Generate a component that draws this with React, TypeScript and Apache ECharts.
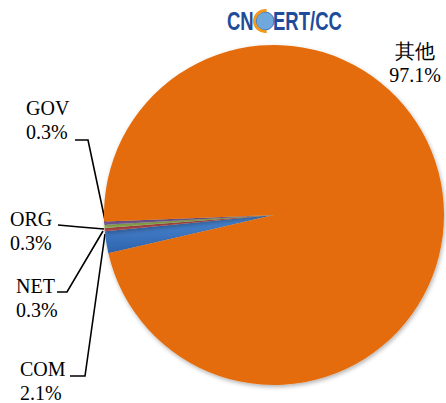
import React, { useEffect, useRef } from "react";
import * as echarts from "echarts";

const categories = ["COM", "NET", "ORG", "GOV", "其他"];
const values = [2.1, 0.3, 0.3, 0.3, 97.1];
const colors = ["#3C74C0", "#C0504D", "#9BBB59", "#8064A2", "#E46C0A"];

// label placement (layout only)
const labelPlace: Record<string, { x: number; y: number; align: string; line?: number[][] }> = {
  GOV: { x: 26, y: 120, align: "left", line: [[106, 225], [88, 140], [75, 140]] },
  ORG: { x: 10, y: 231, align: "left", line: [[104, 229], [80, 227], [58, 225]] },
  NET: { x: 16, y: 298, align: "left", line: [[103, 231], [67, 292], [57, 292]] },
  COM: { x: 20, y: 381, align: "left", line: [[105, 234], [85, 376], [70, 376]] },
  "其他": { x: 415, y: 63, align: "center" },
};

const SERIF = "Liberation Serif";
const txt = { fontFamily: SERIF, fontSize: 20, lineHeight: 24, color: "#000000" };

export default function App() {
  const ref = useRef<HTMLDivElement>(null);
  useEffect(() => {
    if (!ref.current) return;
    const chart = echarts.init(ref.current, null, { renderer: "svg" });
    const data = categories.map((c, i) => ({
      name: c,
      value: values[i],
      itemStyle: {
        color:
          i === 0
            ? new echarts.graphic.LinearGradient(0, 0, 0, 1, [
                { offset: 0, color: "#4A88D2" },
                { offset: 1, color: "#2F63AD" },
              ])
            : colors[i],
      },
      labelLine: { show: c !== "其他" },
    }));
    chart.setOption({
      animation: false,
      backgroundColor: "#ffffff",
      graphic: [
        {
          type: "text",
          x: 227,
          y: 9,
          scaleX: 0.74,
          style: { text: "CN", fontSize: 25, fontWeight: "bold", fontFamily: "Liberation Sans", fill: "#1E4C9A" },
        },
        {
          type: "circle",
          shape: { cx: 265, cy: 21, r: 9 },
          style: { fill: "#6FA8DC", stroke: "#2E6DB4", lineWidth: 1 },
        },
        {
          type: "arc",
          shape: { cx: 265, cy: 21, r: 10.5, startAngle: Math.PI * 0.45, endAngle: Math.PI * 1.55 },
          style: { stroke: "#F39A1E", lineWidth: 3, fill: "none" },
        },
        {
          type: "text",
          x: 273,
          y: 9,
          scaleX: 0.74,
          style: { text: "ERT/CC", fontSize: 25, fontWeight: "bold", fontFamily: "Liberation Sans", fill: "#1E4C9A" },
        },
      ],
      series: [
        {
          type: "pie",
          center: [274, 215],
          radius: 170,
          startAngle: 193,
          clockwise: true,
          avoidLabelOverlap: false,
          data,
          itemStyle: {
            shadowBlur: 4,
            shadowColor: "rgba(0,0,0,0.3)",
            shadowOffsetX: 1,
            shadowOffsetY: 2,
          },
          label: {
            show: true,
            position: "outside",
            formatter: (p: any) => `${p.name}\n${p.value}%`,
            ...txt,
          },
          labelLine: {
            show: true,
            lineStyle: { color: "#000000", width: 1.6 },
          },
          labelLayout: (params: any) => {
            const name = categories[params.dataIndex];
            const p = labelPlace[name];
            const out: any = { x: p.x, y: p.y, align: p.align, verticalAlign: "middle" };
            if (p.line) out.labelLinePoints = p.line;
            return out;
          },
          emphasis: { disabled: true },
        },
      ],
    });
    return () => chart.dispose();
  }, []);
  return <div ref={ref} style={{ position: "absolute", left: 0, top: 0, width: 446, height: 403 }} />;
}
